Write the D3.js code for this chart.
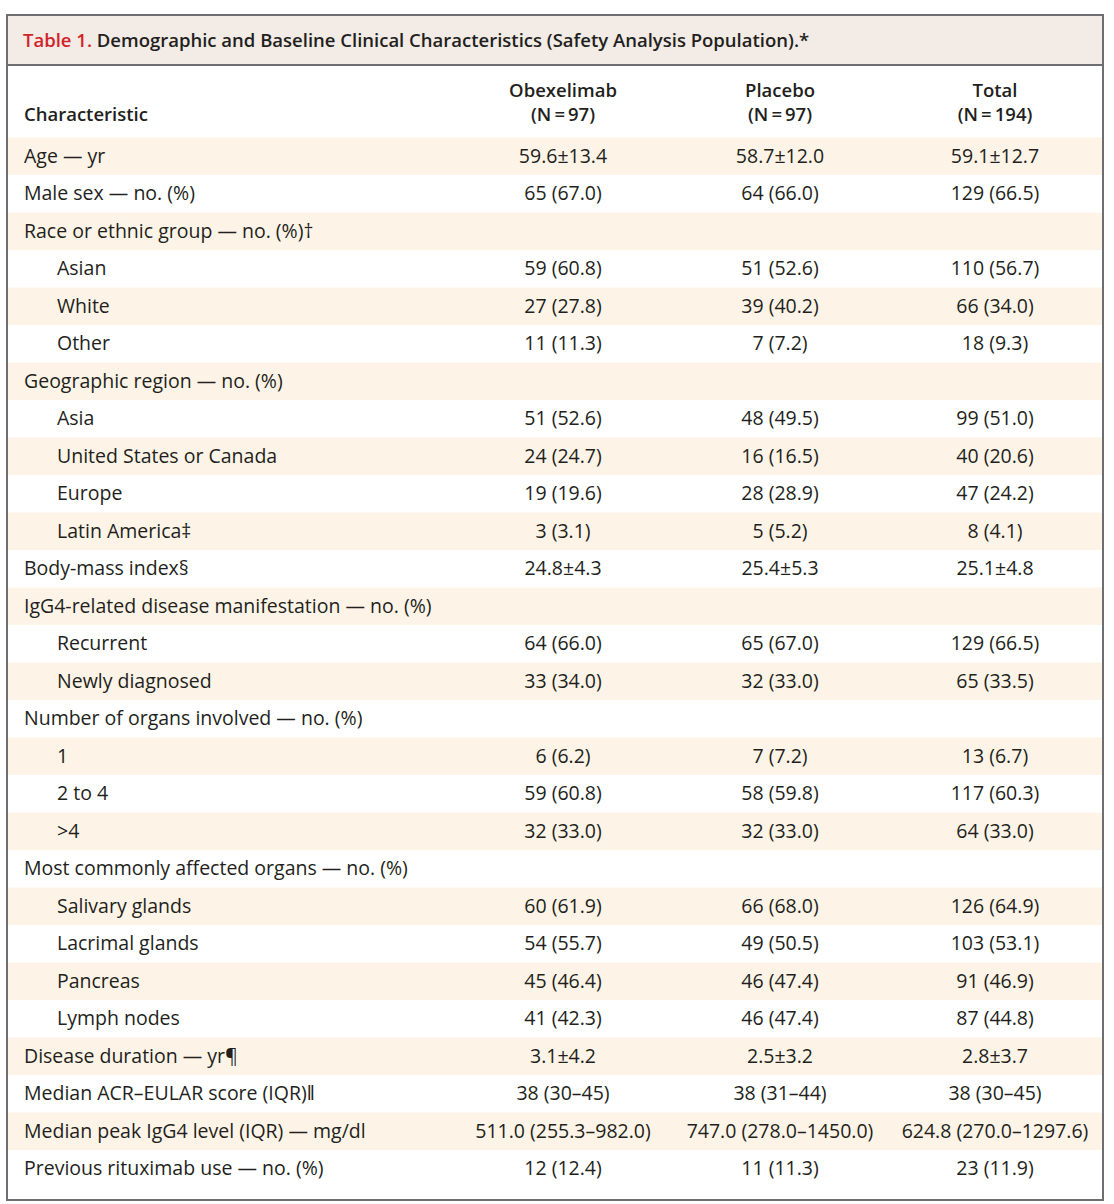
<!DOCTYPE html>
<html>
<head>
<meta charset="UTF-8">
<title>Table 1</title>
<script src="https://cdn.jsdelivr.net/npm/d3@7"></script>
<style>
  body { margin: 0; background: #fff; }
  svg { display: block; font-family: 'Open Sans', sans-serif; }
  .cell { font-size: 19.5px; fill: #231f20; }
  .head { font-size: 18.5px; font-weight: 600; fill: #231f20; }
</style>
</head>
<body>
<div id="chart"></div>
<script>
// table content
const titleLabel = "Table 1.";
const titleText = " Demographic and Baseline Clinical Characteristics (Safety Analysis Population).*";
const groupNames = ["Obexelimab", "Placebo", "Total"];
const groupNs = ["(N\u2009=\u200997)", "(N\u2009=\u200997)", "(N\u2009=\u2009194)"];

const characteristics = [
  "Age \u2014 yr", "Male sex \u2014 no. (%)", "Race or ethnic group \u2014 no. (%)\u2020",
  "Asian", "White", "Other",
  "Geographic region \u2014 no. (%)", "Asia", "United States or Canada", "Europe", "Latin America\u2021",
  "Body-mass index\u00a7",
  "IgG4-related disease manifestation \u2014 no. (%)", "Recurrent", "Newly diagnosed",
  "Number of organs involved \u2014 no. (%)", "1", "2 to 4", ">4",
  "Most commonly affected organs \u2014 no. (%)", "Salivary glands", "Lacrimal glands", "Pancreas", "Lymph nodes",
  "Disease duration \u2014 yr\u00b6", "Median ACR\u2013EULAR score (IQR)\u2016",
  "Median peak IgG4 level (IQR) \u2014 mg/dl", "Previous rituximab use \u2014 no. (%)"
];
// 1 = indented sub-row
const indented = [0,0,0, 1,1,1, 0,1,1,1,1, 0, 0,1,1, 0,1,1,1, 0,1,1,1,1, 0,0,0,0];

const obexelimab = [
  "59.6\u00b113.4", "65 (67.0)", "", "59 (60.8)", "27 (27.8)", "11 (11.3)",
  "", "51 (52.6)", "24 (24.7)", "19 (19.6)", "3 (3.1)", "24.8\u00b14.3",
  "", "64 (66.0)", "33 (34.0)", "", "6 (6.2)", "59 (60.8)", "32 (33.0)",
  "", "60 (61.9)", "54 (55.7)", "45 (46.4)", "41 (42.3)",
  "3.1\u00b14.2", "38 (30\u201345)", "511.0 (255.3\u2013982.0)", "12 (12.4)"
];
const placebo = [
  "58.7\u00b112.0", "64 (66.0)", "", "51 (52.6)", "39 (40.2)", "7 (7.2)",
  "", "48 (49.5)", "16 (16.5)", "28 (28.9)", "5 (5.2)", "25.4\u00b15.3",
  "", "65 (67.0)", "32 (33.0)", "", "7 (7.2)", "58 (59.8)", "32 (33.0)",
  "", "66 (68.0)", "49 (50.5)", "46 (47.4)", "46 (47.4)",
  "2.5\u00b13.2", "38 (31\u201344)", "747.0 (278.0\u20131450.0)", "11 (11.3)"
];
const total = [
  "59.1\u00b112.7", "129 (66.5)", "", "110 (56.7)", "66 (34.0)", "18 (9.3)",
  "", "99 (51.0)", "40 (20.6)", "47 (24.2)", "8 (4.1)", "25.1\u00b14.8",
  "", "129 (66.5)", "65 (33.5)", "", "13 (6.7)", "117 (60.3)", "64 (33.0)",
  "", "126 (64.9)", "103 (53.1)", "91 (46.9)", "87 (44.8)",
  "2.8\u00b13.7", "38 (30\u201345)", "624.8 (270.0\u20131297.6)", "23 (11.9)"
];

const width = 1114, height = 1204;
const frame = { left: 7, right: 1103, top: 15, bottom: 1200 };
const titleBottom = 65;
const bodyTop = 137.5, rowH = 37.5;

const svg = d3.select("#chart").append("svg")
  .attr("width", width)
  .attr("height", height);

const rows = characteristics.map((c, i) => ({
  label: c, indent: indented[i], vals: [obexelimab[i], placebo[i], total[i]]
}));

const y = d3.scaleBand()
  .domain(d3.range(rows.length))
  .range([bodyTop, bodyTop + rowH * rows.length]);

const x = d3.scaleOrdinal()
  .domain(groupNames)
  .range([563, 780, 995]);

// title bar
svg.append("rect")
  .attr("x", frame.left).attr("y", frame.top)
  .attr("width", frame.right - frame.left).attr("height", titleBottom - frame.top)
  .attr("fill", "#f2ebe6");

const title = svg.append("text")
  .attr("x", 23).attr("y", 47)
  .style("font-size", "18.5px").style("font-weight", 600).attr("fill", "#231f20");
title.append("tspan").attr("fill", "#d2232a").text(titleLabel);
title.append("tspan").text(titleText);

// striped rows
svg.append("g").selectAll("rect")
  .data(rows.filter((d, i) => i % 2 === 0))
  .join("rect")
  .attr("x", frame.left)
  .attr("y", d => y(rows.indexOf(d)))
  .attr("width", frame.right - frame.left)
  .attr("height", y.bandwidth())
  .attr("fill", "#fdf4e7");

// header
svg.append("text").attr("class", "head")
  .attr("x", 24).attr("y", 121).text("Characteristic");

const hd = svg.append("g").selectAll("text")
  .data(groupNames)
  .join("text")
  .attr("class", "head")
  .attr("text-anchor", "middle")
  .attr("x", d => x(d));
hd.append("tspan").attr("y", 97).text(d => d);
hd.append("tspan").attr("x", d => x(d)).attr("y", 121).text((d, i) => groupNs[i]);

// body
const row = svg.append("g").selectAll("g")
  .data(rows)
  .join("g")
  .attr("transform", (d, i) => `translate(0,${y(i) + y.bandwidth() / 2 + 6.5})`);

row.append("text").attr("class", "cell")
  .attr("x", d => d.indent ? 57 : 24)
  .text(d => d.label);

row.selectAll("text.val")
  .data(d => d.vals.map((v, j) => ({ v, g: groupNames[j] })))
  .join("text")
  .attr("class", "cell val")
  .attr("text-anchor", "middle")
  .attr("x", d => x(d.g))
  .text(d => d.v);

// frame lines
svg.append("line")
  .attr("x1", frame.left).attr("x2", frame.right)
  .attr("y1", titleBottom).attr("y2", titleBottom)
  .attr("stroke", "#6d6e71").attr("stroke-width", 2);

svg.append("rect")
  .attr("x", frame.left).attr("y", frame.top)
  .attr("width", frame.right - frame.left).attr("height", frame.bottom - frame.top)
  .attr("fill", "none").attr("stroke", "#6d6e71").attr("stroke-width", 2);
</script>
</body>
</html>
